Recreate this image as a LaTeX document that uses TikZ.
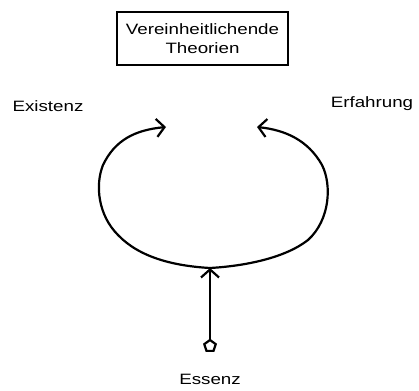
\documentclass[tikz,border=0pt]{standalone}
\usepackage{fontspec}
\setmainfont{Liberation Sans}
\usetikzlibrary{arrows.meta,shapes.geometric}
\newcommand\widetext[1]{\scalebox{1.25}[1]{#1}}
\tikzset{
  lbl/.style={inner sep=0pt, font=\fontsize{15}{17}\selectfont},
  curve/.style={line width=2.2pt, line cap=round, line join=round},
  openhead/.style={-{Straight Barb[length=8pt,width=18pt,line width=2.2pt]}}
}
\begin{document}
\begin{tikzpicture}[x=1pt,y=-1pt]
\useasboundingbox (0,0) rectangle (419,390);
\node[draw, line width=1.4pt, minimum width=171pt, minimum height=53pt, inner sep=0pt, align=center, font=\fontsize{15}{19}\selectfont] (box) at (202.5,38.5) {\widetext{Vereinheitlichende}\\\widetext{Theorien}};
\node[lbl] (ex) at (48,106) {\widetext{Existenz}};
\node[lbl] (er) at (372,104) {\widetext{Erfahrung}};
\node[lbl] (es) at (210,379) {\widetext{Essenz}};
\node[draw, regular polygon, regular polygon sides=5, minimum size=12pt, inner sep=0pt, line width=2.2pt] (src) at (210,346) {};
\coordinate (join) at (210,268);
\coordinate (lt) at (166,127);
\coordinate (rt) at (257,127);
\draw[curve, openhead] (src) -- (join);
\draw[curve, openhead] (join) .. controls (175,266) and (140,258) .. (118,235)
  .. controls (98,215) and (95,185) .. (103,165)
  .. controls (115,140) and (135,130) .. (lt);
\draw[curve, openhead] (join) .. controls (245,266) and (285,258) .. (308,240)
  .. controls (330,220) and (332,185) .. (322,165)
  .. controls (308,140) and (285,130) .. (rt);
\end{tikzpicture}
\end{document}
